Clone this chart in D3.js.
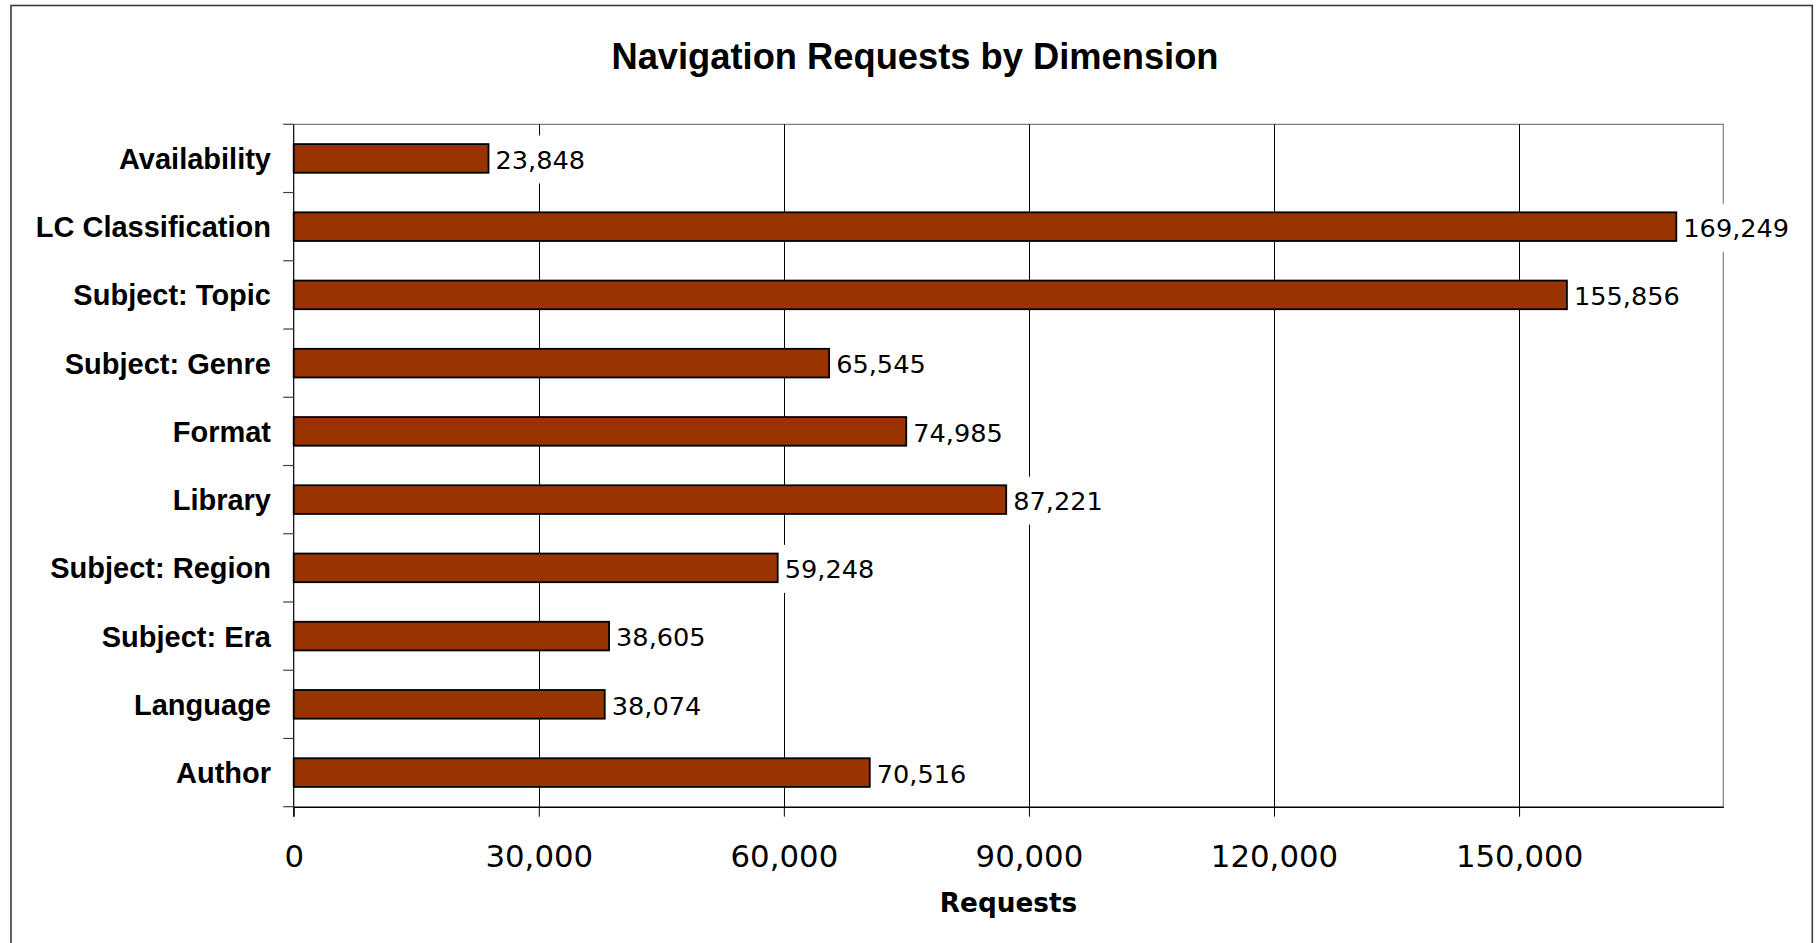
<!DOCTYPE html>
<html>
<head>
<meta charset="utf-8">
<script src="https://cdn.jsdelivr.net/npm/d3@7"></script>
<style>
  html, body { margin: 0; padding: 0; background: #ffffff; }
  svg { display: block; }
</style>
</head>
<body>
<svg id="chart" width="1818" height="943"></svg>
<script>
// ---- data ----
const categories = ["Availability", "LC Classification", "Subject: Topic", "Subject: Genre", "Format",
                    "Library", "Subject: Region", "Subject: Era", "Language", "Author"];
const requests = [23848, 169249, 155856, 65545, 74985, 87221, 59248, 38605, 38074, 70516];
const xTickValues = [0, 30000, 60000, 90000, 120000, 150000];
const xDomain = [0, 175000];
const titleText = "Navigation Requests by Dimension";
const xAxisTitle = "Requests";

const data = categories.map((c, i) => ({ category: c, value: requests[i] }));

// ---- layout ----
const plot = { left: 293.7, right: 1723.3, top: 124.3, bottom: 806.7 };
const svg = d3.select("#chart");
const fmt = d3.format(",");

// outer frame
svg.append("rect")
  .attr("x", 11).attr("y", 5.5)
  .attr("width", 1812.3 - 11).attr("height", 960)
  .attr("fill", "#ffffff").attr("stroke", "#3a3a3a").attr("stroke-width", 1.6);

// title
svg.append("text")
  .attr("x", 915).attr("y", 69.3)
  .attr("text-anchor", "middle")
  .attr("font-family", "'Liberation Sans', Arial, sans-serif")
  .attr("font-weight", "bold").attr("font-size", "36.3px")
  .attr("fill", "#000")
  .text(titleText);

// scales
const x = d3.scaleLinear().domain(xDomain).range([plot.left, plot.right]);
const yBand = d3.scaleBand().domain(categories).range([plot.top, plot.bottom]).padding(0);
const yBar = d3.scaleBand().domain(categories).range([plot.top, plot.bottom])
  .paddingInner(0.58).paddingOuter(0.29);

// plot frame (top and right, gray)
svg.append("path")
  .attr("d", `M${plot.left},${plot.top}H${plot.right}V${plot.bottom}`)
  .attr("fill", "none").attr("stroke", "#808080").attr("stroke-width", 1.2);

// vertical gridlines
svg.append("g").selectAll("line")
  .data(xTickValues.filter(v => v > 0))
  .join("line")
  .attr("x1", d => Math.round(x(d)) + 0.5).attr("x2", d => Math.round(x(d)) + 0.5)
  .attr("y1", plot.top).attr("y2", plot.bottom)
  .attr("stroke", "#000").attr("stroke-width", 1);

// bars
svg.append("g").selectAll("rect")
  .data(data)
  .join("rect")
  .attr("x", x(0))
  .attr("y", d => yBar(d.category))
  .attr("width", d => x(d.value) - x(0))
  .attr("height", yBar.bandwidth())
  .attr("fill", "#993300")
  .attr("stroke", "#000").attr("stroke-width", 1.8);

// x axis
const xAxis = d3.axisBottom(x).tickValues(xTickValues).tickFormat(fmt)
  .tickSizeInner(10).tickSizeOuter(0).tickPadding(0);
const gx = svg.append("g").attr("transform", `translate(0,${plot.bottom})`).call(xAxis);
gx.select(".domain").attr("stroke", "#000").attr("stroke-width", 1.5);
gx.selectAll(".tick line").attr("stroke", "#000").attr("stroke-width", 1);
gx.selectAll(".tick text").remove();
gx.selectAll(".tick").append("text")
  .attr("y", 867 - plot.bottom)
  .attr("text-anchor", "middle")
  .attr("font-family", "'DejaVu Sans', Verdana, sans-serif")
  .attr("font-size", "30.8px").attr("fill", "#000")
  .text(d => fmt(d));

// y axis (ticks at category boundaries)
const gy = svg.append("g");
gy.append("line")
  .attr("x1", plot.left).attr("x2", plot.left)
  .attr("y1", plot.top).attr("y2", plot.bottom + 10)
  .attr("stroke", "#000").attr("stroke-width", 1.2);
const boundaries = categories.map(c => yBand(c)).concat([plot.bottom]);
gy.selectAll("line.tk")
  .data(boundaries)
  .join("line").attr("class", "tk")
  .attr("x1", plot.left - 10.5).attr("x2", plot.left)
  .attr("y1", d => d).attr("y2", d => d)
  .attr("stroke", "#404040").attr("stroke-width", 1.2);

// category labels
svg.append("g").selectAll("text")
  .data(categories)
  .join("text")
  .attr("x", 271)
  .attr("y", d => yBand(d) + yBand.bandwidth() / 2)
  .attr("dy", "0.36em")
  .attr("text-anchor", "end")
  .attr("font-family", "'Liberation Sans', Arial, sans-serif")
  .attr("font-weight", "bold").attr("font-size", "29px")
  .attr("fill", "#000")
  .text(d => d);

// value labels with white background
const lbl = svg.append("g").selectAll("g")
  .data(data)
  .join("g")
  .attr("transform", d => `translate(${x(d.value) + 7},${yBand(d.category) + yBand.bandwidth() / 2})`);
lbl.append("text")
  .attr("x", 0).attr("y", 0).attr("dy", "0.40em")
  .attr("font-family", "'DejaVu Sans', Verdana, sans-serif")
  .attr("font-size", "25.6px").attr("fill", "#000")
  .text(d => fmt(d.value));
lbl.each(function() {
  const g = d3.select(this);
  const bb = g.select("text").node().getBBox();
  g.insert("rect", "text")
    .attr("x", bb.x - 4).attr("y", -23)
    .attr("width", bb.width + 8).attr("height", 48)
    .attr("fill", "#ffffff");
});

// x axis title
svg.append("text")
  .attr("x", (plot.left + plot.right) / 2).attr("y", 911.7)
  .attr("text-anchor", "middle")
  .attr("font-family", "'DejaVu Sans', Verdana, sans-serif")
  .attr("font-weight", "bold").attr("font-size", "26.3px")
  .attr("fill", "#000")
  .text(xAxisTitle);
</script>
</body>
</html>
